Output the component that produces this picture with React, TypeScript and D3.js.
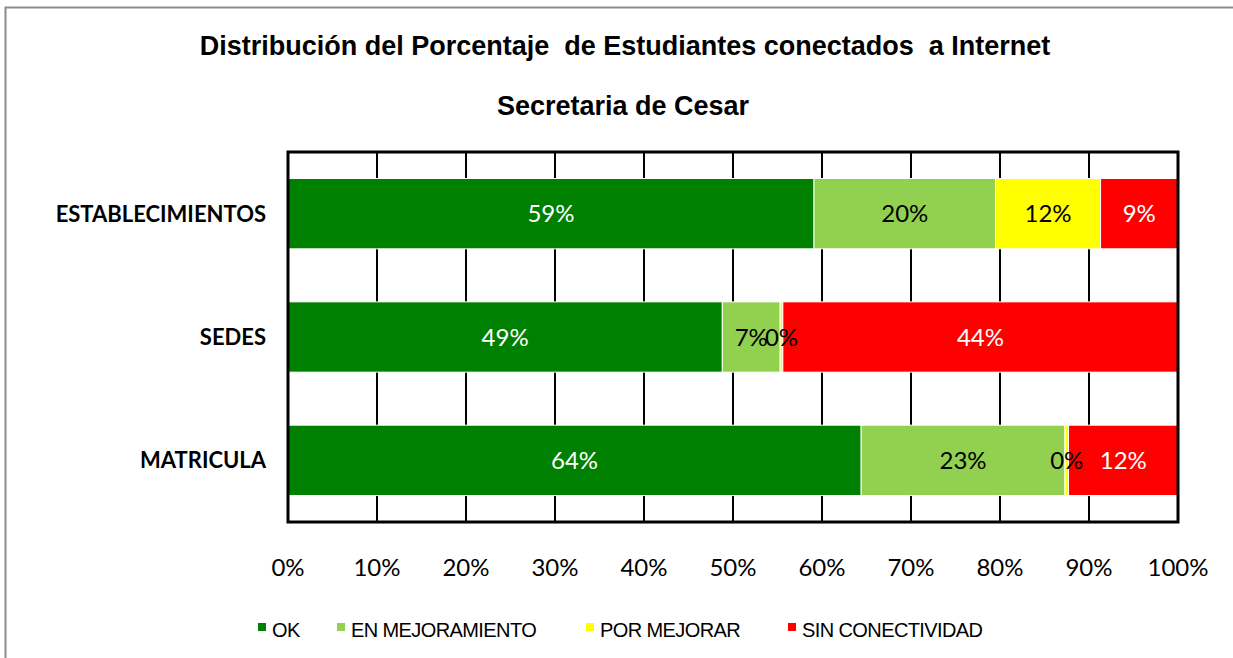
import React from "react";
import * as d3 from "d3";

const categories = ["ESTABLECIMIENTOS", "SEDES", "MATRICULA"];
const seriesNames = ["OK", "EN MEJORAMIENTO", "POR MEJORAR", "SIN CONECTIVIDAD"];
const seriesColors = ["#008000", "#92d050", "#ffff00", "#ff0000"];
const labelColors = ["#ffffff", "#000000", "#000000", "#ffffff"];
// percentages per category, in series order
const okValues = [59.1, 48.8, 64.4];
const mejoramientoValues = [20.4, 6.5, 22.9];
const porMejorarValues = [11.8, 0.3, 0.4];
const sinConectividadValues = [8.7, 44.4, 12.3];
const xTicks = [0, 10, 20, 30, 40, 50, 60, 70, 80, 90, 100];

const W = 1233;
const H = 658;
const margin = { left: 288, right: 55, top: 152, bottom: 136 };

const App = () => {
  const rows = categories.map((c, i) => ({
    cat: c,
    values: [okValues[i], mejoramientoValues[i], porMejorarValues[i], sinConectividadValues[i]],
  }));

  const x = d3.scaleLinear().domain([0, 100]).range([margin.left, W - margin.right]);
  const y = d3
    .scaleBand()
    .domain(categories)
    .range([margin.top, H - margin.bottom])
    .paddingInner(0.43)
    .paddingOuter(0.215);

  const stack = d3
    .stack<any>()
    .keys(seriesNames)
    .value((d, key) => d.values[seriesNames.indexOf(key)]);
  const stacked = stack(rows);

  const labelFont = "Lato, 'Open Sans', sans-serif";
  const legendX = [258, 337, 586, 788];

  return (
    <svg
      width={W}
      height={H}
      style={{ position: "absolute", left: 0, top: 0, background: "#fff" }}
    >
      <rect x={5.5} y={7.5} width={W + 10} height={H + 10} fill="#fff" stroke="#8c8c8c" strokeWidth={2} />

      <text
        x={625}
        y={55}
        textAnchor="middle"
        fontFamily="'Liberation Sans', Arial, sans-serif"
        fontWeight="bold"
        fontSize={27}
        style={{ whiteSpace: "pre" }}
      >
        {"Distribución del Porcentaje  de Estudiantes conectados  a Internet"}
      </text>
      <text
        x={623}
        y={115}
        textAnchor="middle"
        fontFamily="'Liberation Sans', Arial, sans-serif"
        fontWeight="bold"
        fontSize={27}
      >
        Secretaria de Cesar
      </text>

      {/* gridlines */}
      {xTicks.map((t) => (
        <line key={t} x1={x(t)} x2={x(t)} y1={margin.top} y2={H - margin.bottom} stroke="#000" strokeWidth={2} />
      ))}

      {/* bars */}
      {stacked.map((s, si) =>
        s.map((d, ci) => (
          <rect
            key={si + "-" + ci}
            x={x(d[0])}
            y={y(categories[ci])}
            width={x(d[1]) - x(d[0])}
            height={y.bandwidth()}
            fill={seriesColors[si]}
            stroke="#fff"
            strokeWidth={1}
          />
        ))
      )}

      {/* data labels */}
      {stacked.map((s, si) =>
        s.map((d, ci) => (
          <text
            key={"l" + si + "-" + ci}
            x={(x(d[0]) + x(d[1])) / 2}
            y={(y(categories[ci]) as number) + y.bandwidth() / 2}
            dy="0.36em"
            textAnchor="middle"
            fontFamily={labelFont}
            fontSize={24}
            fill={labelColors[si]}
          >
            {Math.round(d[1] - d[0]) + "%"}
          </text>
        ))
      )}

      {/* plot border */}
      <rect
        x={margin.left}
        y={margin.top}
        width={W - margin.right - margin.left}
        height={H - margin.bottom - margin.top}
        fill="none"
        stroke="#000"
        strokeWidth={3}
      />

      {/* category labels */}
      {categories.map((c) => (
        <text
          key={c}
          x={266}
          y={(y(c) as number) + y.bandwidth() / 2}
          dy="0.36em"
          textAnchor="end"
          fontFamily={labelFont}
          fontWeight="bold"
          fontSize={22}
        >
          {c}
        </text>
      ))}

      {/* x tick labels */}
      {xTicks.map((t) => (
        <text key={"t" + t} x={x(t)} y={576} textAnchor="middle" fontFamily={labelFont} fontSize={24}>
          {t + "%"}
        </text>
      ))}

      {/* legend */}
      {seriesNames.map((n, i) => (
        <g key={n}>
          <rect x={legendX[i]} y={623} width={8} height={8} fill={seriesColors[i]} />
          <text
            x={legendX[i] + 14}
            y={637}
            fontFamily="'Liberation Sans', Arial, sans-serif"
            fontSize={20}
            letterSpacing={-0.6}
          >
            {n}
          </text>
        </g>
      ))}
    </svg>
  );
};

export default App;
